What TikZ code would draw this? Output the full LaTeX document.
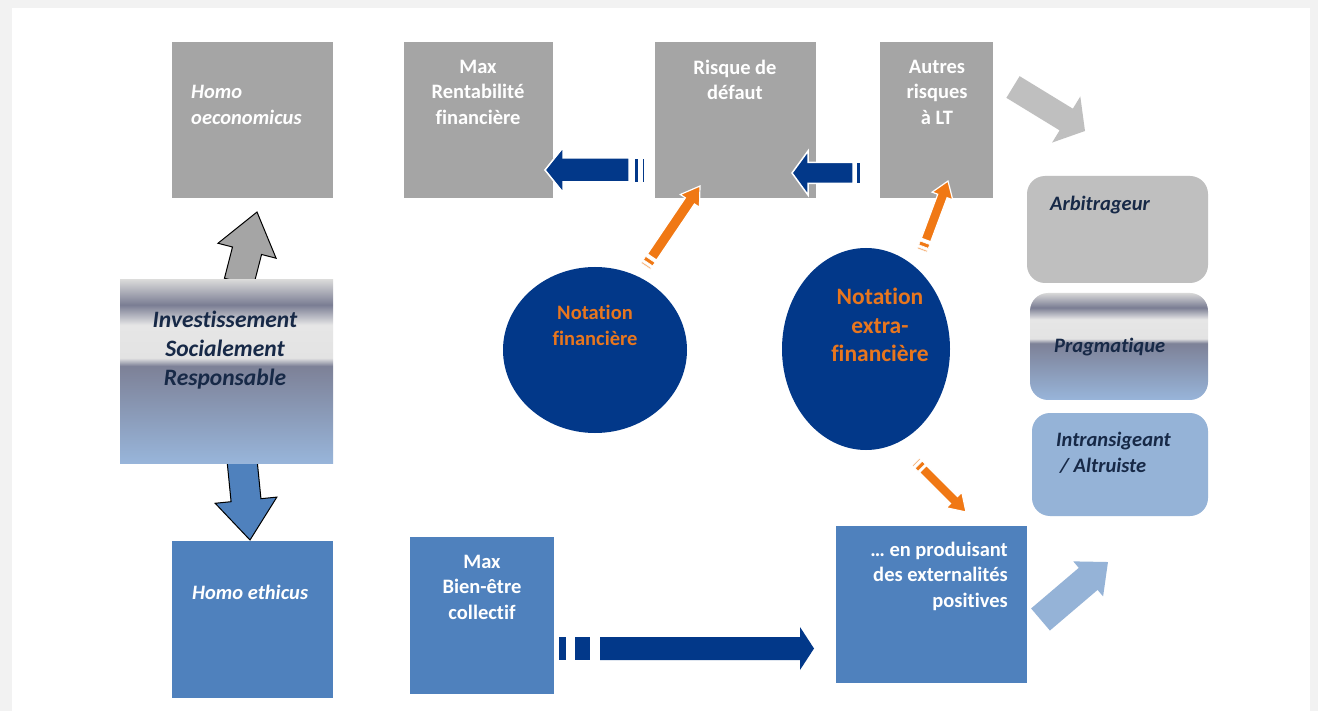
\documentclass[tikz,border=0pt]{standalone}
\usepackage{fontspec}
\setmainfont{Carlito}[Ligatures=NoCommon]
\usetikzlibrary{calc,shapes.geometric}
\definecolor{bggray}{RGB}{242,242,242}
\definecolor{boxgray}{RGB}{165,165,165}
\definecolor{lgray}{RGB}{191,191,191}
\definecolor{boxblue}{RGB}{79,129,189}
\definecolor{lblue}{RGB}{149,179,215}
\definecolor{navy}{RGB}{2,56,137}
\definecolor{orng}{RGB}{240,120,20}
\definecolor{orngtxt}{RGB}{232,118,30}
\definecolor{ink}{RGB}{23,41,71}
\definecolor{chA}{RGB}{216,216,216}
\definecolor{chB}{RGB}{122,125,147}
\definecolor{chC}{RGB}{230,230,230}
\definecolor{chD}{RGB}{227,227,227}
\definecolor{chE}{RGB}{125,129,151}
\definecolor{chF}{RGB}{152,181,218}
\pgfdeclareverticalshading{chrome}{100bp}{color(0bp)=(chF); color(25bp)=(chF); color(51.5bp)=(chE); color(53.7bp)=(chD); color(62.7bp)=(chC); color(68.2bp)=(chB); color(75bp)=(chA); color(100bp)=(chA)}
% block arrow: style, tail, tip, shaft half width, head half width, head length
\newcommand\blockarrow[6]{%
  \path[#1] let \p1=(#2), \p2=(#3), \n1={atan2(\y2-\y1,\x2-\x1)}, \n2={veclen(\x2-\x1,\y2-\y1)} in
    [shift={(\p1)}, rotate=\n1]
    (0pt,#4pt) -- ({\n2-#6pt},#4pt) -- ({\n2-#6pt},#5pt) -- ({\n2},0pt) -- ({\n2-#6pt},-#5pt) -- ({\n2-#6pt},-#4pt) -- (0pt,-#4pt) -- cycle;
}
% stripe behind an arrow: style, tail, tip, from, to, half width
\newcommand\arrowstripe[6]{%
  \path[#1] let \p1=(#2), \p2=(#3), \n1={atan2(\y2-\y1,\x2-\x1)} in
    [shift={(\p1)}, rotate=\n1] (#4pt,#6pt) rectangle (#5pt,-#6pt);
}
\begin{document}
\begin{tikzpicture}[x=1pt,y=-1pt,
  box/.style={rectangle, inner sep=0pt, outer sep=0pt},
  wtxt/.style={inner sep=0pt, text=white, font=\fontsize{20.5}{25.5}\selectfont\bfseries},
  witxt/.style={inner sep=0pt, text=white, font=\fontsize{20.5}{25.5}\selectfont\bfseries\itshape},
  ntxt/.style={inner sep=0pt, text=ink, font=\fontsize{20.5}{25.5}\selectfont\bfseries\itshape},
  otxt/.style={inner sep=0pt, text=orngtxt, font=\fontsize{20.5}{26}\selectfont\bfseries},
  navyarrow/.style={fill=navy, draw=white, line width=1.5pt},
  orangearrow/.style={fill=orng, draw=white, line width=1.2pt},
]
\useasboundingbox (0,0) rectangle (1318,711);
\fill[bggray] (0,0) rectangle (1318,711);
\fill[white] (12,8) rectangle (1310,711);

% arrow end coordinates
\coordinate (upT) at (239,282);   \coordinate (upH) at (257,212);
\coordinate (dnT) at (242,460);   \coordinate (dnH) at (250,540);
\coordinate (grT) at (1013,87);   \coordinate (grH) at (1085,131);
\coordinate (lbT) at (1040.5,619.5); \coordinate (lbH) at (1108,562);
\coordinate (h1T) at (629,170);   \coordinate (h1H) at (545,170);
\coordinate (h2T) at (853,173);   \coordinate (h2H) at (792,173);
\coordinate (btT) at (600,648.5); \coordinate (btH) at (814,648.5);
\coordinate (o1T) at (652,257);   \coordinate (o1H) at (700,186);
\coordinate (o2T) at (926,240);   \coordinate (o2H) at (948,181);
\coordinate (o3T) at (923,469);   \coordinate (o3H) at (966,512);

% vertical arrows from ISR (behind the box)
\blockarrow{fill=boxgray, draw=black, line width=1pt}{upT}{upH}{15}{30}{40}
\blockarrow{fill=boxblue, draw=black, line width=1pt}{dnT}{dnH}{15}{31}{40}

% boxes
\node[box, fill=boxgray, minimum width=161pt, minimum height=156pt] (homoEco) at (252.5,120) {};
\node[box, fill=boxgray, minimum width=149pt, minimum height=156pt] (maxRent) at (478.5,120) {};
\node[box, fill=boxgray, minimum width=161pt, minimum height=156pt] (risque) at (735.5,120) {};
\node[box, fill=boxgray, minimum width=113pt, minimum height=156pt] (autres) at (936.5,120) {};
\node[box, fill=lgray, rounded corners=18pt, minimum width=181pt, minimum height=107pt] (arbit) at (1117.5,229.5) {};
\node[box, shading=chrome, rounded corners=18pt, minimum width=178pt, minimum height=107pt] (prag) at (1119,346.5) {};
\node[box, fill=lblue, rounded corners=18pt, minimum width=176pt, minimum height=103pt] (intrans) at (1120,464.5) {};
\node[box, shading=chrome, minimum width=213pt, minimum height=183pt] (isr) at (226.5,371.5) {};
\node[box, fill=boxblue, minimum width=161pt, minimum height=157pt] (homoEth) at (252.5,619.5) {};
\node[box, fill=boxblue, minimum width=144pt, minimum height=157pt] (maxBien) at (482,615.5) {};
\node[box, fill=boxblue, minimum width=191pt, minimum height=157pt] (extern) at (931.5,604.5) {};
\node[ellipse, fill=navy, inner sep=0pt, minimum width=184pt, minimum height=166pt] (notFin) at (595,350) {};
\node[ellipse, fill=navy, inner sep=0pt, minimum width=168pt, minimum height=202pt] (notExtra) at (866,349) {};

% texts
\node[witxt, anchor=west, align=left] (tHomoEco) at (191,105) {Homo\\oeconomicus};
\node[wtxt, align=center] (tMaxRent) at (478,92) {Max\\Rentabilité\\financière};
\node[wtxt, align=center] (tRisque) at (735,80) {Risque de\\défaut};
\node[wtxt, align=center] (tAutres) at (937,92) {Autres\\risques\\à LT};
\node[ntxt, anchor=west] (tArbit) at (1050,205) {Arbitrageur};
\node[ntxt, anchor=west] (tPrag) at (1054,347) {Pragmatique};
\node[ntxt, anchor=west, align=left] (tIntrans) at (1056,453) {Intransigeant\\\hspace{4pt}/ Altruiste};
\node[inner sep=0pt, text=ink, font=\fontsize{23.5}{29}\selectfont\bfseries\itshape, align=center] (tIsr) at (225,350) {Investissement\\Socialement\\Responsable};
\node[witxt, anchor=west] (tHomoEth) at (192,592) {Homo ethicus};
\node[wtxt, align=center] (tMaxBien) at (482,587) {Max\\Bien-être\\collectif};
\node[wtxt, anchor=east, align=right] (tExtern) at (1008,576) {… en produisant\\des externalités\\positives};
\node[otxt, align=center] (tNotFin) at (595,325) {Notation\\financière};
\node[inner sep=0pt, text=orngtxt, font=\fontsize{23.5}{28.5}\selectfont\bfseries, align=center] (tNotExtra) at (880,325) {Notation\\extra-\\financière};

% side arrows
\blockarrow{fill=lgray}{grT}{grH}{12.7}{27}{22}
\blockarrow{fill=lblue}{lbT}{lbH}{14.5}{23}{26}

% navy horizontal arrows
\arrowstripe{fill=navy, draw=white, line width=0.8pt}{h1T}{h1H}{-9}{-5}{12}
\arrowstripe{fill=navy, draw=white, line width=0.8pt}{h1T}{h1H}{-15}{-13}{12}
\blockarrow{navyarrow}{h1T}{h1H}{12}{22.5}{18}
\arrowstripe{fill=navy, draw=white, line width=0.8pt}{h2T}{h2H}{-7}{-3}{10.5}
\arrowstripe{fill=navy, draw=white, line width=0.8pt}{h2T}{h2H}{-10.5}{-9}{10.5}
\blockarrow{navyarrow}{h2T}{h2H}{10.5}{22}{16}
\arrowstripe{fill=navy}{btT}{btH}{-25}{-10}{11.5}
\arrowstripe{fill=navy}{btT}{btH}{-41}{-34}{11.5}
\blockarrow{fill=navy}{btT}{btH}{11.5}{21.5}{14}

% orange arrows
\arrowstripe{fill=orng, draw=white, line width=0.6pt}{o1T}{o1H}{-7}{-3}{5.5}
\arrowstripe{fill=orng!60, draw=white, line width=0.4pt}{o1T}{o1H}{-11}{-9.5}{5.5}
\blockarrow{orangearrow}{o1T}{o1H}{5.5}{11.5}{18}
\arrowstripe{fill=orng, draw=white, line width=0.6pt}{o2T}{o2H}{-7}{-3}{5}
\arrowstripe{fill=orng!60, draw=white, line width=0.4pt}{o2T}{o2H}{-11}{-9.5}{5}
\blockarrow{orangearrow}{o2T}{o2H}{5}{11}{16}
\arrowstripe{fill=orng, draw=white, line width=0.6pt}{o3T}{o3H}{-6}{-2}{5}
\arrowstripe{fill=orng!60, draw=white, line width=0.4pt}{o3T}{o3H}{-10}{-8.5}{5}
\blockarrow{orangearrow}{o3T}{o3H}{5}{11}{17}
\end{tikzpicture}
\end{document}
